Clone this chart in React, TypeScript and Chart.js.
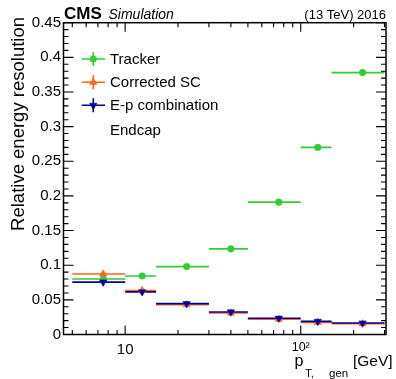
import React, { useEffect, useRef } from 'react';
import { Chart, registerables } from 'chart.js';
import { drawPoint } from 'chart.js/helpers';

Chart.register(...registerables);

// ---- data ----
const BIN_LO = [5, 10, 15, 30, 50, 100, 150];
const BIN_HI = [10, 15, 30, 50, 100, 150, 300];
const BIN_CENTER = [7.5, 12.5, 22.4, 40, 75, 125, 225];

const TRACKER = [0.0802, 0.0845, 0.098, 0.1236, 0.191, 0.27, 0.378];
const TRACKER_ERR = [0.002, 0.0012, 0.0012, 0.0015, 0.002, 0.003, 0.004];

const CORRECTED_SC = [0.0874, 0.0636, 0.043, 0.031, 0.022, 0.0175, 0.0155];
const CORRECTED_SC_ERR = [0.0042, 0.0025, 0.0015, 0.0012, 0.001, 0.001, 0.001];

const EP_COMB = [0.0756, 0.0615, 0.0445, 0.0325, 0.0235, 0.019, 0.0165];
const EP_COMB_ERR = [0.0035, 0.002, 0.0015, 0.0012, 0.001, 0.001, 0.001];

const SERIES_NAMES = ['Tracker', 'Corrected SC', 'E-p combination'];
const REGION_LABEL = 'Endcap';

const Y_TICKS = [0, 0.05, 0.1, 0.15, 0.2, 0.25, 0.3, 0.35, 0.4, 0.45];
const X_TICKS = [10, 100];
const X_TICK_LABELS = ['10', '10\u00B2'];
const X_MINOR = [5, 6, 7, 8, 9, 20, 30, 40, 50, 60, 70, 80, 90, 200, 300];

const FONT = '"Liberation Sans", Arial, Helvetica, sans-serif';

const SERIES = [
  { name: SERIES_NAMES[0], values: TRACKER, errors: TRACKER_ERR, color: '#33cc33', style: 'circle', rotation: 0, radius: 3.3, order: 3 },
  { name: SERIES_NAMES[1], values: CORRECTED_SC, errors: CORRECTED_SC_ERR, color: '#ff6611', style: 'triangle', rotation: 0, radius: 4.3, order: 2 },
  { name: SERIES_NAMES[2], values: EP_COMB, errors: EP_COMB_ERR, color: '#000099', style: 'triangle', rotation: 180, radius: 4.3, order: 1 },
];

const errorBarPlugin = {
  id: 'errorBars',
  beforeDatasetsDraw(chart: any) {
    const { ctx } = chart;
    const x = chart.scales.x;
    const y = chart.scales.y;
    ctx.save();
    ctx.lineWidth = 1.6;
    SERIES.forEach((s) => {
      ctx.strokeStyle = s.color;
      s.values.forEach((v, i) => {
        const py = y.getPixelForValue(v);
        const px = x.getPixelForValue(BIN_CENTER[i]);
        ctx.beginPath();
        ctx.moveTo(x.getPixelForValue(BIN_LO[i]), py);
        ctx.lineTo(x.getPixelForValue(BIN_HI[i]), py);
        ctx.moveTo(px, y.getPixelForValue(v - s.errors[i]));
        ctx.lineTo(px, y.getPixelForValue(v + s.errors[i]));
        ctx.stroke();
      });
    });
    ctx.restore();
  },
};

const framePlugin = {
  id: 'frame',
  afterDraw(chart: any) {
    const { ctx, chartArea } = chart;
    const { left, right, top, bottom } = chartArea;
    const x = chart.scales.x;
    const y = chart.scales.y;
    ctx.save();

    // ticks
    ctx.strokeStyle = '#000';
    ctx.lineWidth = 1.1;
    ctx.beginPath();
    const xTick = (v: number, len: number) => {
      const px = x.getPixelForValue(v);
      ctx.moveTo(px, bottom);
      ctx.lineTo(px, bottom - len);
      ctx.moveTo(px, top);
      ctx.lineTo(px, top + len);
    };
    X_TICKS.forEach((v) => xTick(v, 9));
    X_MINOR.forEach((v) => xTick(v, 4.5));
    for (let k = 0; k <= 45; k++) {
      const py = y.getPixelForValue(k / 100);
      const len = k % 5 === 0 ? 10 : 5;
      ctx.moveTo(left, py);
      ctx.lineTo(left + len, py);
      ctx.moveTo(right, py);
      ctx.lineTo(right - len, py);
    }
    ctx.stroke();

    // frame
    ctx.lineWidth = 1.5;
    ctx.strokeRect(left, top, right - left, bottom - top);

    // header
    ctx.fillStyle = '#000';
    ctx.textBaseline = 'alphabetic';
    ctx.textAlign = 'left';
    ctx.font = `bold 17px ${FONT}`;
    ctx.fillText('CMS', 64, 18.5);
    ctx.font = `italic 14px ${FONT}`;
    ctx.fillText('Simulation', 108.5, 18.5);
    ctx.textAlign = 'right';
    ctx.font = `13px ${FONT}`;
    ctx.fillText('(13 TeV) 2016', 386, 18.5);

    // y title
    ctx.save();
    ctx.translate(24, 17);
    ctx.rotate(-Math.PI / 2);
    ctx.textAlign = 'right';
    ctx.font = `18.5px ${FONT}`;
    ctx.fillText('Relative energy resolution', 0, 0);
    ctx.restore();

    // x title
    ctx.textAlign = 'left';
    ctx.font = `16px ${FONT}`;
    ctx.fillText('p', 294.5, 365.5);
    ctx.font = `11.5px ${FONT}`;
    ctx.fillText('T,', 305, 376.5);
    ctx.fillText('gen', 329, 376.5);
    ctx.font = `15.5px ${FONT}`;
    ctx.fillText('[GeV]', 353, 366);

    // legend
    const legY = [59, 82.3, 105.3];
    const lx0 = 81.7;
    const lx1 = 105;
    const mx = 93.3;
    SERIES.forEach((s, i) => {
      const ly = legY[i];
      ctx.strokeStyle = s.color;
      ctx.fillStyle = s.color;
      ctx.lineWidth = 1.6;
      ctx.beginPath();
      ctx.moveTo(lx0, ly);
      ctx.lineTo(lx1, ly);
      ctx.moveTo(mx, ly - 7);
      ctx.lineTo(mx, ly + 7);
      ctx.stroke();
      ctx.lineWidth = 0.5;
      drawPoint(ctx, { pointStyle: s.style as any, rotation: s.rotation, radius: s.radius, borderWidth: 0.5 }, mx, ly);
      ctx.fillStyle = '#000';
      ctx.textAlign = 'left';
      ctx.textBaseline = 'middle';
      ctx.font = `15px ${FONT}`;
      ctx.fillText(s.name, 110, ly + 0.5);
    });
    ctx.fillStyle = '#000';
    ctx.textBaseline = 'middle';
    ctx.font = `15px ${FONT}`;
    ctx.fillText(REGION_LABEL, 110, 130.5);

    ctx.restore();
  },
};

export default function App() {
  const ref = useRef<HTMLCanvasElement>(null);

  useEffect(() => {
    if (!ref.current) return;
    Chart.defaults.font.family = FONT;
    Chart.defaults.color = '#000';
    const chart = new Chart(ref.current, {
      type: 'scatter',
      data: {
        datasets: SERIES.map((s) => ({
          label: s.name,
          data: BIN_CENTER.map((xv, i) => ({ x: xv, y: s.values[i] })),
          pointStyle: s.style as any,
          rotation: s.rotation,
          pointRadius: s.radius,
          pointBackgroundColor: s.color,
          pointBorderColor: s.color,
          pointBorderWidth: 0.5,
          showLine: false,
          order: s.order,
        })),
      },
      options: {
        animation: false,
        responsive: false,
        devicePixelRatio: 1,
        events: [],
        layout: { padding: { top: 22.7, right: 10, left: 0, bottom: 0 } },
        plugins: {
          legend: { display: false },
          tooltip: { enabled: false },
        },
        scales: {
          x: {
            type: 'logarithmic',
            min: 4.456,
            max: 305.9,
            grid: { display: false, drawTicks: false },
            border: { display: false },
            afterBuildTicks: (s: any) => {
              s.ticks = X_TICKS.map((v) => ({ value: v }));
            },
            afterFit: (s: any) => {
              s.height = 44.5;
            },
            ticks: {
              autoSkip: false,
              maxRotation: 0,
              minRotation: 0,
              padding: 6,
              color: '#000',
              callback: (v: any) => {
                const idx = X_TICKS.indexOf(Number(v));
                return idx >= 0 ? X_TICK_LABELS[idx] : '';
              },
              font: (c: any) => ({ family: FONT, size: c.tick && c.tick.value === 100 ? 12.5 : 15 }),
            },
          },
          y: {
            type: 'linear',
            min: 0,
            max: 0.45,
            grid: { display: false, drawTicks: false },
            border: { display: false },
            afterBuildTicks: (s: any) => {
              s.ticks = Y_TICKS.map((v) => ({ value: v }));
            },
            afterFit: (s: any) => {
              s.width = 63.5;
            },
            ticks: {
              padding: 2.5,
              color: '#000',
              font: { family: FONT, size: 15 },
              callback: (v: any) => String(Number(Number(v).toFixed(2))),
            },
          },
        },
      },
      plugins: [errorBarPlugin, framePlugin],
    });
    return () => chart.destroy();
  }, []);

  return (
    <div style={{ position: 'absolute', left: 0, top: 0, width: 396, height: 379, background: '#fff' }}>
      <canvas ref={ref} width={396} height={379} style={{ width: 396, height: 379, display: 'block' }} />
    </div>
  );
}
